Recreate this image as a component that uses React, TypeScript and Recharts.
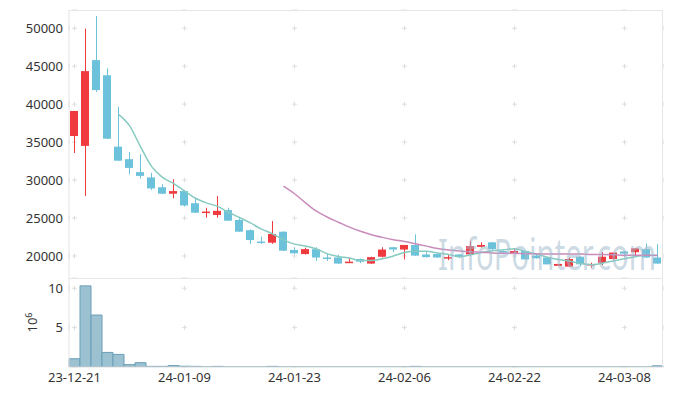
import { ComposedChart, Bar, Line, XAxis, YAxis, CartesianGrid } from 'recharts';

// trading days, 23-12-21 .. 24-03-13
const dates = [
  '23-12-21', '23-12-22', '23-12-26', '23-12-27', '23-12-28', '24-01-02', '24-01-03', '24-01-04', '24-01-05', '24-01-08',
  '24-01-09', '24-01-10', '24-01-11', '24-01-12', '24-01-15', '24-01-16', '24-01-17', '24-01-18', '24-01-19', '24-01-22',
  '24-01-23', '24-01-24', '24-01-25', '24-01-26', '24-01-29', '24-01-30', '24-01-31', '24-02-01', '24-02-02', '24-02-05',
  '24-02-06', '24-02-07', '24-02-08', '24-02-13', '24-02-14', '24-02-15', '24-02-16', '24-02-19', '24-02-20', '24-02-21',
  '24-02-22', '24-02-23', '24-02-26', '24-02-27', '24-02-28', '24-02-29', '24-03-04', '24-03-05', '24-03-06', '24-03-07',
  '24-03-08', '24-03-11', '24-03-12', '24-03-13',
];

const opens = [
  35800, 34500, 45800, 43800, 34400, 32750, 31050, 30350, 29050, 28200,
  28550, 26950, 25650, 25400, 26050, 24750, 23400, 21900, 21750, 23200,
  20800, 20250, 20900, 19800, 19800, 19100, 19600, 19000, 19900, 21150,
  20850, 21450, 20200, 20250, 19750, 20200, 20200, 21200, 21800, 20650,
  20250, 20650, 20050, 19800, 18700, 18600, 19900, 18800, 19100, 19600,
  20600, 20500, 20900, 19800,
];
const highs = [
  39100, 49950, 51600, 44700, 39650, 33700, 33400, 30950, 29450, 30100,
  28600, 27600, 26350, 27900, 26350, 24950, 23500, 22550, 24600, 23250,
  21150, 21100, 21150, 20350, 20150, 19800, 19650, 19900, 21150, 21200,
  21450, 22850, 20500, 20300, 20250, 20250, 22000, 21800, 21850, 20700,
  21000, 20700, 20150, 19900, 18950, 19800, 20000, 19100, 20500, 20450,
  20650, 21050, 21650, 21550,
];
const lows = [
  33550, 27900, 41600, 35400, 32500, 30750, 30200, 28700, 28150, 27600,
  26500, 25650, 25050, 25050, 24600, 23200, 21600, 21600, 21600, 20650,
  20300, 20200, 19350, 19350, 18950, 19100, 19050, 18950, 19800, 20500,
  19550, 20000, 19800, 19750, 19450, 19700, 20100, 21100, 20650, 20350,
  20200, 19550, 19650, 18900, 18700, 18600, 18600, 18400, 18800, 19500,
  19900, 20050, 19750, 18950,
];
const closes = [
  39100, 44350, 41850, 35450, 32550, 31600, 30550, 28900, 28200, 28550,
  26650, 25700, 25850, 25950, 24650, 23200, 22100, 21750, 22900, 20700,
  20350, 20900, 19800, 19650, 19000, 19250, 19250, 19850, 20850, 20850,
  21450, 20050, 19850, 19800, 19850, 19950, 21300, 21450, 20900, 20450,
  20650, 19550, 19700, 18900, 18950, 19600, 18900, 18950, 19900, 20450,
  20300, 21000, 19800, 19000,
];

// volume, millions of shares
const volumes = [
  1.05, 10.3, 6.6, 1.85, 1.6, 0.3, 0.55, 0.08, 0.08, 0.18,
  0.1, 0.08, 0.02, 0.08, 0.01, 0.01, 0.01, 0.01, 0.08, 0.01,
  0.01, 0.01, 0.01, 0.01, 0.01, 0.01, 0.01, 0.01, 0.01, 0.01,
  0.01, 0.08, 0.01, 0.01, 0.01, 0.01, 0.01, 0.01, 0.01, 0.01,
  0.01, 0.01, 0.01, 0.01, 0.01, 0.01, 0.01, 0.01, 0.01, 0.01,
  0.01, 0.01, 0.01, 0.15,
];

const ma5 = [
  null, null, null, null, 38660, 37160, 34400, 31810, 30360, 29560,
  28570, 27600, 26990, 26540, 25760, 25070, 24350, 23530, 22920, 22130,
  21560, 21320, 20930, 20280, 19940, 19720, 19390, 19400, 19640, 20010,
  20450, 20610, 20610, 20400, 20200, 19900, 20150, 20470, 20690, 20810,
  20950, 20590, 20240, 19840, 19540, 19330, 19000, 18850, 19050, 19350,
  19630, 19910, 20090, 20100,
];
const ma20 = [
  null, null, null, null, null, null, null, null, null, null,
  null, null, null, null, null, null, null, null, null, 29200,
  28200, 27000, 25900, 25100, 24450, 23800, 23250, 22800, 22450, 22150,
  21900, 21600, 21300, 21000, 20800, 20650, 20550, 20500, 20400, 20350,
  20350, 20300, 20300, 20250, 20250, 20250, 20250, 20200, 20200, 20150,
  20100, 20100, 20100, 20050,
];

const dateTicks = ['23-12-21', '24-01-09', '24-01-23', '24-02-06', '24-02-22', '24-03-08'];
const priceTicks = [20000, 25000, 30000, 35000, 40000, 45000, 50000];
const volumeTicks = [5, 10];

const data = dates.map((date, i) => ({
  date,
  open: opens[i],
  high: highs[i],
  low: lows[i],
  close: closes[i],
  volume: volumes[i],
  ma5: ma5[i],
  ma20: ma20[i],
}));

const UP = '#ef3b3f';
const DOWN = '#6cc2da';
const GRID = '#dedede';
const tickStyle = { fontSize: 13, fill: '#333', fontFamily: 'Noto Sans' };

const Candle = (props: any) => {
  const { x, y, width, height, payload } = props;
  const { open, close, high, low } = payload;
  const color = close >= open ? UP : DOWN;
  const span = high - low || 1;
  const toY = (v: number) => y + ((high - v) / span) * height;
  const top = toY(Math.max(open, close));
  const bottom = toY(Math.min(open, close));
  const cx = x + width / 2;
  return (
    <g>
      <line x1={cx} x2={cx} y1={y} y2={y + height} stroke={color} strokeWidth={1} />
      <rect x={Math.floor(cx - 4)} y={top} width={8} height={Math.max(bottom - top, 1.5)} fill={color} />
    </g>
  );
};

const hCross = (p: any) => (
  <line
    key={`h-${p.index}`}
    x1={p.x1}
    y1={p.y1}
    x2={p.x2}
    y2={p.y2}
    stroke={GRID}
    strokeDasharray="5 105"
    strokeDashoffset={-3}
  />
);

const vCrossTop = (p: any) => (
  <line
    key={`v-${p.index}`}
    x1={p.x1}
    y1={p.y1}
    x2={p.x2}
    y2={p.y2}
    stroke={GRID}
    strokeDasharray="5 32.96"
    strokeDashoffset={-15.7}
  />
);

const vCrossBottom = (p: any) => (
  <line
    key={`v-${p.index}`}
    x1={p.x1}
    y1={p.y1}
    x2={p.x2}
    y2={p.y2}
    stroke={GRID}
    strokeDasharray="5 34.38 5 1000"
    strokeDashoffset={-7.74}
  />
);

const PowerLabel = (props: any) => {
  const { viewBox } = props;
  const tx = viewBox.x + 37;
  const ty = viewBox.y + viewBox.height / 2 + 10;
  return (
    <text transform={`translate(${tx}, ${ty}) rotate(-90)`} fontSize={13} fill="#333" fontFamily="Noto Sans">
      10
      <tspan dy={-5} fontSize={9}>6</tspan>
    </text>
  );
};

export default function App() {
  return (
    <div style={{ position: 'absolute', left: 0, top: 0, width: 673, height: 396, background: '#fff' }}>
      <div style={{ position: 'absolute', left: 0, top: 0 }}>
        <ComposedChart width={673} height={278} data={data} margin={{ top: 10, right: 10, left: 0, bottom: 0 }} barCategoryGap={0}>
          <CartesianGrid horizontal={hCross} vertical={vCrossTop} />
          <XAxis dataKey="date" hide ticks={dateTicks} />
          <YAxis
            type="number"
            domain={[17100, 52400]}
            ticks={priceTicks}
            allowDataOverflow
            width={69}
            tickLine={false}
            tickSize={0}
            tickMargin={6}
            axisLine={{ stroke: '#e3e3e3' }}
            tick={tickStyle}
          />
          <Bar dataKey={(d: any) => [d.low, d.high]} shape={Candle} isAnimationActive={false} />
          <Line type="monotone" dataKey="ma5" stroke="#86cbc1" strokeWidth={1.5} dot={false} isAnimationActive={false} />
          <Line type="monotone" dataKey="ma20" stroke="#c98bbb" strokeWidth={1.5} dot={false} isAnimationActive={false} />
        </ComposedChart>
      </div>
      <div style={{ position: 'absolute', left: 0, top: 278 }}>
        <ComposedChart width={673} height={118} data={data} margin={{ top: 0, right: 10, left: 0, bottom: 0 }} barCategoryGap={0}>
          <CartesianGrid horizontal={hCross} vertical={vCrossBottom} />
          <XAxis
            dataKey="date"
            ticks={dateTicks}
            height={29}
            tickLine={false}
            tickSize={0}
            tickMargin={6}
            axisLine={{ stroke: '#dcdcdc' }}
            tick={tickStyle}
          />
          <YAxis
            type="number"
            domain={[0, 11.3]}
            ticks={volumeTicks}
            allowDataOverflow
            width={69}
            tickLine={false}
            tickSize={0}
            tickMargin={6}
            axisLine={{ stroke: '#e3e3e3' }}
            tick={tickStyle}
            label={<PowerLabel />}
          />
          <Bar dataKey="volume" fill="#9cc2d2" stroke="#6a9fb8" strokeWidth={1} isAnimationActive={false} />
        </ComposedChart>
      </div>
      <div style={{ position: 'absolute', left: 69, top: 10, width: 593, height: 357, border: '1px solid #e6e6e6', borderLeft: 'none', borderBottom: 'none', pointerEvents: 'none' }} />
      <div style={{ position: 'absolute', left: 69, top: 278, width: 594, height: 0, borderTop: '1px solid #e6e6e6', pointerEvents: 'none' }} />
      <svg width={673} height={396} style={{ position: 'absolute', left: 0, top: 0, pointerEvents: 'none' }}>
        <text x={438} y={270} fontSize={44} fontFamily="Noto Sans" fill="rgba(160,186,205,0.55)" textLength={218} lengthAdjust="spacingAndGlyphs">
          InfoPointer.com
        </text>
      </svg>
    </div>
  );
}
